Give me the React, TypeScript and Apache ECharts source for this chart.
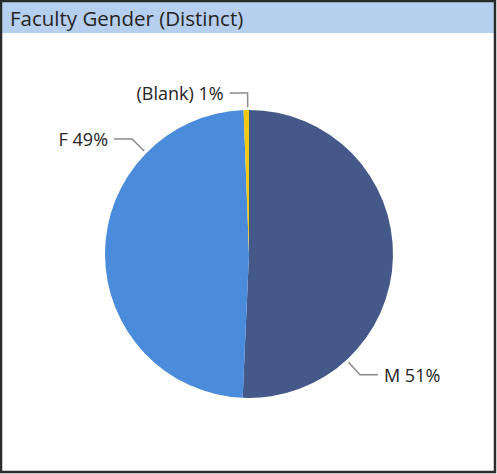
import React, { useEffect, useRef } from "react";
import * as echarts from "echarts";

const titleText = "Faculty Gender (Distinct)";
const categories = ["M", "F", "(Blank)"];
const values = [50.7, 48.7, 0.6];
const colors = ["#44598A", "#4A8BDB", "#F2C811"];

// layout of the label leader lines (angle clockwise from 12 o'clock)
const CX = 249;
const CY = 254;
const R = 144;
const labelAngles = [137.4, 314.5, 359.5];
const labelBend = [20, 20, 17];

export default function App() {
  const ref = useRef<HTMLDivElement>(null);
  useEffect(() => {
    document.body.style.margin = "0";
    const chart = echarts.init(ref.current!, null, { renderer: "svg" });
    chart.setOption({
      animation: false,
      backgroundColor: "#ffffff",
      graphic: [
        {
          type: "rect",
          shape: { x: 1, y: 1, width: 494, height: 471 },
          style: { fill: "none", stroke: "#2b2b2b", lineWidth: 2.5 },
          z: 10,
        },
        {
          type: "rect",
          shape: { x: 2, y: 2, width: 492, height: 31 },
          style: { fill: "#B6CFEE" },
          z: 1,
        },
        {
          type: "text",
          x: 10,
          y: 18,
          style: {
            text: titleText,
            fill: "#252423",
            font: '20.5px "Open Sans", "Noto Sans", sans-serif',
            verticalAlign: "middle",
          },
          z: 2,
        },
      ],
      series: [
        {
          type: "pie",
          center: [CX, CY],
          radius: [0, R],
          startAngle: 90,
          clockwise: true,
          avoidLabelOverlap: false,
          data: categories.map((c, i) => ({
            name: c,
            value: values[i],
            itemStyle: { color: colors[i] },
          })),
          label: {
            show: true,
            position: "outside",
            formatter: (p: any) => `${p.name} ${Math.round(p.percent)}%`,
            color: "#252423",
            fontSize: 18,
            fontFamily: '"Open Sans", "Noto Sans", sans-serif',
          },
          labelLine: {
            show: true,
            length: 16,
            length2: 18,
            lineStyle: { color: "#8a8a8a", width: 1.5 },
          },
          labelLayout: (params: any) => {
            const i = params.dataIndex;
            const a = (labelAngles[i] * Math.PI) / 180;
            const ux = Math.sin(a);
            const uy = -Math.cos(a);
            const p0 = [CX + (R + 3) * ux, CY + (R + 3) * uy];
            const p1 = [CX + (R + labelBend[i]) * ux, CY + (R + labelBend[i]) * uy];
            const right = ux > 0.05;
            const p2 = [p1[0] + (right ? 18 : -18), p1[1]];
            return {
              x: p2[0] + (right ? 6 : -6),
              y: p2[1],
              align: right ? "left" : "right",
              verticalAlign: "middle",
              labelLinePoints: [p0, p1, p2],
            };
          },
          itemStyle: { borderWidth: 0 },
          emphasis: { disabled: true },
        },
      ],
    });
    return () => chart.dispose();
  }, []);
  return (
    <div
      ref={ref}
      style={{ position: "fixed", left: 0, top: 0, width: 497, height: 474 }}
    />
  );
}
